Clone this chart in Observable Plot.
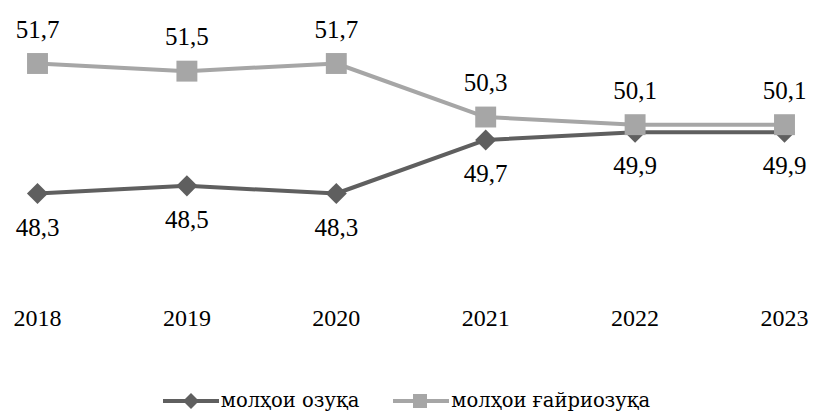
<!DOCTYPE html>
<html>
<head>
<meta charset="utf-8">
<script src="https://cdn.jsdelivr.net/npm/d3@7"></script>
<script src="https://cdn.jsdelivr.net/npm/@observablehq/plot@0.6"></script>
<style>
  body { margin: 0; background: #fff; }
  #legend { height: 37px; display: flex; justify-content: center; align-items: center; padding-top: 14px; box-sizing: border-box; font-family: "DejaVu Serif", serif; font-size: 19.5px; color: #000; }
  .item { display: flex; align-items: center; margin: 0 17px; }
  .item svg { display: block; }
</style>
</head>
<body>
<div id="chart"></div>
<div id="legend"></div>
<script>
const years = [2018, 2019, 2020, 2021, 2022, 2023];
const food = [48.3, 48.5, 48.3, 49.7, 49.9, 49.9];
const nonFood = [51.7, 51.5, 51.7, 50.3, 50.1, 50.1];
const seriesNames = ["молҳои озуқа", "молҳои ғайриозуқа"];
const colors = ["#5f5f5f", "#a6a6a6"];

const fmt = v => v.toFixed(1).replace(".", ",");
const foodRows = years.map((y, i) => ({year: y, value: food[i]}));
const nonFoodRows = years.map((y, i) => ({year: y, value: nonFood[i]}));

const chart = Plot.plot({
  width: 813,
  height: 375,
  marginLeft: 37,
  marginRight: 29,
  marginTop: 0,
  marginBottom: 70,
  x: {domain: [2018, 2023], label: null},
  y: {domain: [48.3, 51.7], range: [193, 63], axis: null},
  style: {fontFamily: "Liberation Serif, serif", fontSize: "24px", color: "#000", background: "#fff"},
  marks: [
    Plot.axisX({ticks: years, tickSize: 0, tickPadding: 3, tickFormat: d => String(d), fontSize: 24, label: null}),
    Plot.line(foodRows, {x: "year", y: "value", stroke: colors[0], strokeWidth: 4}),
    Plot.dot(foodRows, {x: "year", y: "value", symbol: "diamond2", r: 9.5, fill: colors[0], stroke: "none"}),
    Plot.line(nonFoodRows, {x: "year", y: "value", stroke: colors[1], strokeWidth: 4}),
    Plot.dot(nonFoodRows, {x: "year", y: "value", symbol: "square", r: 11.8, fill: colors[1], stroke: "none"}),
    Plot.text(foodRows, {x: "year", y: "value", text: d => fmt(d.value), dy: 34, fontSize: 25, fill: "#000"}),
    Plot.text(nonFoodRows, {x: "year", y: "value", text: d => fmt(d.value), dy: -34, fontSize: 25, fill: "#000"})
  ]
});
document.getElementById("chart").appendChild(chart);

const legend = document.getElementById("legend");
const markers = [
  c => `<path d="M28,0 L36,8 L28,16 L20,8 Z" fill="${c}"/>`,
  c => `<rect x="20" y="1" width="14" height="14" fill="${c}"/>`
];
seriesNames.forEach((name, i) => {
  const item = document.createElement("div");
  item.className = "item";
  item.innerHTML = `<svg width="56" height="16"><line x1="0" x2="56" y1="8" y2="8" stroke="${colors[i]}" stroke-width="4"/>${markers[i](colors[i])}</svg><span style="margin-left:2px">${name}</span>`;
  legend.appendChild(item);
});
</script>
</body>
</html>
